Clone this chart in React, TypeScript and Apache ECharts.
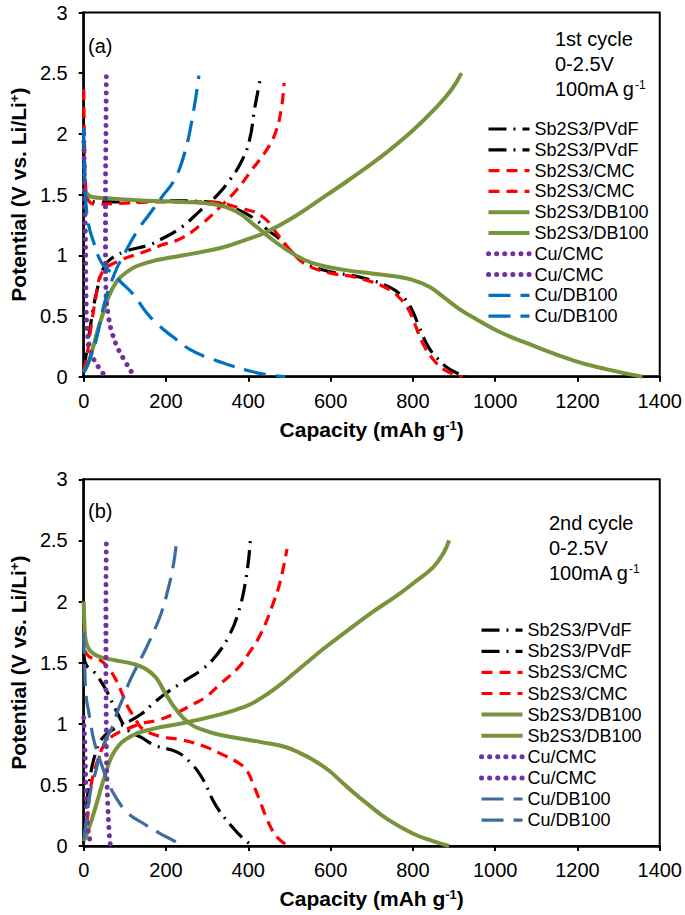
import React, { useEffect, useRef } from "react";
import * as echarts from "echarts";

const FONT = "'Liberation Sans', Arial, Helvetica, sans-serif";

// ---- category / legend labels ----
const seriesLabels = [
  "Sb2S3/PVdF", "Sb2S3/PVdF",
  "Sb2S3/CMC", "Sb2S3/CMC",
  "Sb2S3/DB100", "Sb2S3/DB100",
  "Cu/CMC", "Cu/CMC",
  "Cu/DB100", "Cu/DB100",
];

const xTicks = { min: 0, max: 1400, interval: 200 };
const yTicks = { min: 0, max: 3, interval: 0.5 };

// ---- (a) 1st cycle: [capacity mAh/g, potential V] ----
const pvdf1Dis = [[0,1.9],[3,1.6],[8,1.48],[30,1.44],[100,1.44],[200,1.45],[300,1.44],[379,1.37],[419,1.29],[450,1.2],[474,1.14],[505,1.03],[537,0.94],[592,0.87],[671,0.82],[742,0.74],[775,0.66],[795,0.57],[813,0.43],[837,0.25],[860,0.15],[890,0.06],[930,0]];
const pvdf1Ch = [[0,0.05],[5,0.16],[16,0.41],[25,0.6],[33,0.72],[45,0.87],[59,0.95],[99,1.03],[154,1.08],[187,1.13],[237,1.23],[284,1.37],[320,1.48],[355,1.62],[383,1.77],[403,1.95],[415,2.2],[425,2.38],[430,2.47]];
const cmc1Dis = [[0,2.37],[2,1.9],[5,1.55],[12,1.45],[30,1.42],[100,1.43],[200,1.44],[300,1.44],[379,1.39],[434,1.32],[474,1.16],[505,1.03],[537,0.93],[592,0.86],[671,0.81],[742,0.72],[770,0.64],[790,0.55],[805,0.43],[825,0.27],[850,0.14],[880,0.05],[920,0]];
const cmc1Ch = [[0,0.05],[8,0.18],[17,0.39],[30,0.66],[45,0.86],[83,0.95],[140,1.02],[194,1.09],[237,1.14],[284,1.25],[332,1.4],[372,1.54],[410,1.71],[445,1.87],[466,2.01],[480,2.2],[487,2.42]];
const db1Dis = [[0,1.55],[5,1.52],[20,1.48],[59,1.47],[150,1.45],[242,1.44],[316,1.42],[371,1.36],[418,1.24],[458,1.13],[505,1.02],[553,0.94],[632,0.88],[700,0.85],[750,0.83],[797,0.8],[840,0.74],[877,0.65],[916,0.55],[956,0.47],[1010,0.37],[1074,0.28],[1193,0.13],[1272,0.06],[1358,0]];
const db1Ch = [[0,0.04],[10,0.1],[21,0.22],[33,0.37],[45,0.5],[69,0.72],[100,0.85],[154,0.94],[242,1.0],[332,1.06],[395,1.13],[443,1.19],[513,1.32],[592,1.5],[640,1.61],[718,1.8],[797,2.02],[860,2.23],[895,2.37],[918,2.5]];
const cuCmc1Dis = [[0,2.0],[2,1.6],[4,1.2],[5,0.9],[6,0.6],[8,0.4],[14,0.25],[25,0.14],[40,0.06],[53,0]];
const cuCmc1Ch = [[55,2.47],[54,2.0],[53,1.5],[53,1.0],[54,0.7],[60,0.5],[70,0.35],[85,0.22],[100,0.13],[123,0]];
const cuDb1Dis = [[0,2.05],[2,1.7],[5,1.45],[12,1.25],[25,1.1],[43,0.94],[60,0.88],[90,0.78],[120,0.68],[150,0.54],[180,0.43],[220,0.32],[260,0.22],[300,0.16],[350,0.1],[400,0.05],[440,0.02],[490,0]];
const cuDb1Ch = [[0,0.03],[15,0.15],[30,0.3],[50,0.6],[75,0.85],[100,1.02],[130,1.2],[160,1.34],[190,1.48],[220,1.62],[245,1.84],[265,2.15],[280,2.48]];

// ---- (b) 2nd cycle ----
const pvdf2Dis = [[0,1.6],[5,1.49],[29,1.41],[45,1.33],[57,1.26],[80,1.1],[107,0.95],[139,0.89],[175,0.82],[226,0.77],[260,0.68],[289,0.55],[313,0.38],[329,0.29],[360,0.16],[385,0.07],[410,0]];
const pvdf2Ch = [[0,0.05],[5,0.25],[15,0.55],[28,0.75],[45,0.88],[70,0.95],[100,1.0],[140,1.08],[170,1.17],[200,1.25],[240,1.34],[290,1.45],[320,1.55],[350,1.7],[375,1.9],[395,2.2],[405,2.5]];
const cmc2Dis = [[3,1.6],[13,1.55],[40,1.52],[61,1.45],[80,1.35],[93,1.25],[107,1.14],[124,1.05],[139,0.97],[164,0.92],[195,0.89],[235,0.87],[289,0.82],[330,0.76],[376,0.68],[396,0.62],[415,0.48],[427,0.38],[443,0.24],[460,0.12],[480,0.04],[500,0]];
const cmc2Ch = [[0,0.05],[8,0.2],[18,0.5],[34,0.7],[50,0.83],[70,0.9],[100,0.95],[140,1.0],[180,1.03],[220,1.08],[266,1.16],[297,1.22],[330,1.32],[376,1.46],[400,1.57],[431,1.74],[462,2.0],[478,2.17],[494,2.43]];
const db2Dis = [[0,2.0],[2,1.8],[5,1.68],[15,1.6],[37,1.55],[76,1.52],[120,1.49],[150,1.45],[175,1.38],[200,1.24],[226,1.11],[258,1.0],[290,0.95],[330,0.91],[431,0.85],[490,0.81],[526,0.76],[560,0.7],[595,0.62],[625,0.53],[655,0.44],[691,0.34],[738,0.22],[801,0.1],[849,0.04],[888,0]];
const db2Ch = [[0,0.04],[10,0.12],[29,0.32],[53,0.59],[76,0.78],[116,0.9],[171,0.96],[234,1.0],[313,1.06],[392,1.14],[431,1.21],[470,1.3],[510,1.41],[549,1.52],[589,1.63],[644,1.77],[700,1.91],[762,2.05],[801,2.15],[849,2.28],[875,2.4],[888,2.5]];
const cuCmc2Dis = [[0,1.05],[3,0.8],[5,0.5],[7,0.3],[10,0.15],[15,0.05],[20,0]];
const cuCmc2Ch = [[55,2.47],[54,2.0],[54,1.5],[55,0.9],[56,0.6],[59,0.3],[62,0.1],[65,0]];
const cuDb2Dis = [[0,1.75],[2,1.5],[6,1.22],[12,1.1],[17,1.0],[25,0.86],[41,0.69],[57,0.54],[76,0.41],[107,0.27],[147,0.18],[187,0.1],[215,0.05],[242,0]];
const cuDb2Ch = [[0,0.05],[6,0.2],[17,0.46],[30,0.62],[40,0.75],[55,0.88],[69,0.97],[81,1.09],[93,1.19],[112,1.35],[128,1.46],[152,1.62],[171,1.76],[188,1.9],[205,2.1],[218,2.3],[226,2.5]];

const cycle1 = [pvdf1Dis, pvdf1Ch, cmc1Dis, cmc1Ch, db1Dis, db1Ch, cuCmc1Dis, cuCmc1Ch, cuDb1Dis, cuDb1Ch];
const cycle2 = [pvdf2Dis, pvdf2Ch, cmc2Dis, cmc2Ch, db2Dis, db2Ch, cuCmc2Dis, cuCmc2Ch, cuDb2Dis, cuDb2Ch];

type LS = { color: string; width: number; type: any; cap?: string };
const styleFor = (i: number, cycle: number): LS => {
  const k = Math.floor(i / 2);
  if (k === 0) return { color: "#000000", width: 3.2, type: [18, 7, 2, 7] };
  if (k === 1) return { color: "#FF0000", width: 3.2, type: [11, 7] };
  if (k === 2) return { color: "#77933C", width: 4, type: "solid" };
  if (k === 3) return { color: "#7030A0", width: 5, type: [0.1, 8], cap: "round" };
  return { color: cycle === 1 ? "#0070C0" : "#3E6C9E", width: 3.2, type: [22, 10] };
};

const axisCommon = {
  axisLine: { show: true, onZero: false, lineStyle: { color: "#000", width: 2.5 } },
  axisTick: { show: true, inside: false, length: 5, lineStyle: { color: "#000", width: 2 } },
  splitLine: { show: false },
};

const nameRich = {
  t: { fontSize: 21, fontWeight: "bold", fontFamily: FONT, color: "#000" },
  s: { fontSize: 13, fontWeight: "bold", fontFamily: FONT, color: "#000", verticalAlign: "top" },
};

export default function App() {
  const ref = useRef<HTMLDivElement>(null);
  useEffect(() => {
    if (!ref.current) return;
    const chart = echarts.init(ref.current, undefined, { renderer: "svg" });
    const grids = [
      { left: 69.5, top: 12.5, width: 591.2, height: 364.2, show: true, borderColor: "#000", borderWidth: 2 },
      { left: 67.5, top: 479.3, width: 593.2, height: 366.7, show: true, borderColor: "#000", borderWidth: 2 },
    ];
    const xAxes = [0, 1].map((g) => ({
      gridIndex: g, type: "value", ...xTicks, ...axisCommon,
      axisLabel: { fontSize: 20, color: "#000", fontFamily: FONT, margin: 14, formatter: (v: number) => String(v) },
      name: "{t|Capacity (mAh g}{s|-1}{t|)}", nameLocation: "middle", nameGap: 42,
      nameTextStyle: { rich: nameRich },
    }));
    const yAxes = [0, 1].map((g) => ({
      gridIndex: g, type: "value", ...yTicks, ...axisCommon,
      axisLabel: { fontSize: 20, color: "#000", fontFamily: FONT, margin: 16 },
      name: "{t|Potential (V vs. Li/Li}{s|+}{t|)}", nameLocation: "middle", nameRotate: 90, nameGap: 53,
      nameTextStyle: { rich: nameRich },
    }));
    const mkName = (c: number, i: number) => `${c}${i}|${seriesLabels[i]}`;
    const series: any[] = [];
    [cycle1, cycle2].forEach((cyc, ci) => {
      cyc.forEach((data, i) => {
        const ls = styleFor(i, ci + 1);
        series.push({
          type: "line", name: mkName(ci, i), xAxisIndex: ci, yAxisIndex: ci,
          data, symbol: "none", showSymbol: false, smooth: 0.45, clip: true,
          lineStyle: { color: ls.color, width: ls.width, type: ls.type, cap: ls.cap || "butt" },
          itemStyle: { color: ls.color },
          emphasis: { disabled: true },
        });
      });
    });
    const legendCommon = {
      orient: "vertical", itemWidth: 41, itemHeight: 14, selectedMode: false, padding: 0,
      itemStyle: { opacity: 0 },
      lineStyle: { width: "inherit", type: "inherit", cap: "inherit", color: "inherit" },
      formatter: (n: string) => n.split("|")[1],
      textStyle: { fontSize: 18, fontFamily: FONT, color: "#000", lineHeight: 20 },
    };
    const legends = [
      { ...legendCommon, left: 486, top: 119, itemGap: 0.8, data: seriesLabels.map((_, i) => mkName(0, i)) },
      { ...legendCommon, left: 479, top: 620.2, itemGap: 1.1, data: seriesLabels.map((_, i) => mkName(1, i)) },
    ];
    const txt = (x: number, y: number, text: string, rich?: any) => ({
      type: "text", x, y, silent: true,
      style: { text, fontSize: 20, fontFamily: FONT, fill: "#000", verticalAlign: "middle", align: "left", rich },
    });
    const supRich = {
      n: { fontSize: 20, fontFamily: FONT, color: "#000" },
      s: { fontSize: 12, fontFamily: FONT, color: "#000", verticalAlign: "top" },
    };
    const graphic = [
      txt(88, 46, "(a)"),
      txt(555, 39, "1st cycle"),
      txt(555, 64, "0-2.5V"),
      txt(555, 89, "{n|100mA g}{s|-1}", supRich),
      txt(88, 511, "(b)"),
      txt(549, 523, "2nd cycle"),
      txt(549, 548, "0-2.5V"),
      txt(549, 573, "{n|100mA g}{s|-1}", supRich),
    ];
    chart.setOption({
      animation: false,
      textStyle: { fontFamily: FONT },
      grid: grids, xAxis: xAxes, yAxis: yAxes, legend: legends, series, graphic,
    });
    return () => chart.dispose();
  }, []);
  return <div ref={ref} style={{ position: "absolute", left: 0, top: 0, width: 685, height: 915, background: "#fff" }} />;
}
